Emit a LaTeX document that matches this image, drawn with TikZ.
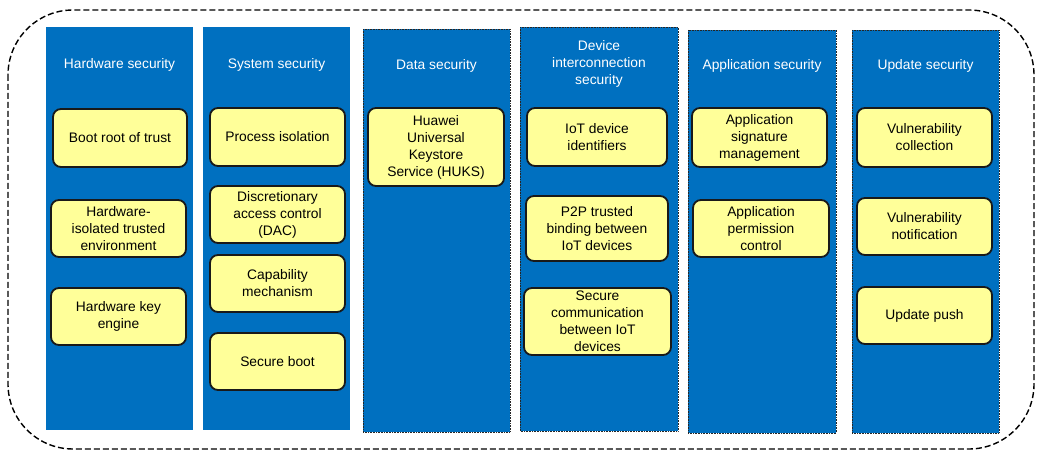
\documentclass[tikz,border=0pt]{standalone}
\usepackage{fontspec}
\setmainfont{Liberation Sans}
\definecolor{colblue}{RGB}{0,112,192}
\definecolor{itemyellow}{RGB}{255,255,153}

\begin{document}
\begin{tikzpicture}[x=1pt, y=-1pt,
    every node/.style={align=center, inner sep=0pt, font=\fontsize{13.8}{17}\selectfont},
    col/.style={fill=colblue},
    dcol/.style={fill=colblue, draw=black!85, densely dotted, line width=.6pt},
    title/.style={text=white},
    item/.style={draw=black!90, line width=1.8pt, fill=itemyellow, rounded corners=8pt}]
    \useasboundingbox (0,0) rectangle (1042,454);
    \draw[line width=1.4pt, dash pattern=on 6pt off 3pt, rounded corners=65pt] (8,10) rectangle (1034,449);

    % columns
    \fill[col] (46,27) rectangle (193,430);
    \fill[col] (203,27) rectangle (350,430);
    \filldraw[dcol] (363,29) rectangle (510,432);
    \filldraw[dcol] (520,27) rectangle (678,431);
    \filldraw[dcol] (688,30) rectangle (836,433);
    \filldraw[dcol] (852,30) rectangle (999,433);

    % titles
    \draw (119.5,65) node[title] (thw) {Hardware security};
    \draw (276.5,65) node[title] (tsys) {System security};
    \draw (436.5,66) node[title] (tdata) {Data security};
    \draw (599,64) node[title] (tdev) {Device\\interconnection\\security};
    \draw (762,66) node[title] (tapp) {Application security};
    \draw (925.5,66) node[title] (tupd) {Update security};

    % hardware
    \draw (120,138) node[item, minimum width=134, minimum height=58] (hw1) {Boot root of trust};
    \draw (118.5,228.5) node[item, minimum width=135, minimum height=57] (hw2) {Hardware-\\isolated trusted\\environment};
    \draw (118.5,316.5) node[item, minimum width=135, minimum height=57] (hw3) {Hardware key\\engine};

    % system
    \draw (277.5,137) node[item, minimum width=135, minimum height=58] (sys1) {Process isolation};
    \draw (277.5,214.5) node[item, minimum width=135, minimum height=57] (sys2) {Discretionary\\access control\\(DAC)};
    \draw (277.5,283.5) node[item, minimum width=135, minimum height=57] (sys3) {Capability\\mechanism};
    \draw (277.5,361.5) node[item, minimum width=135, minimum height=57] (sys4) {Secure boot};

    % data
    \draw (436,147) node[item, minimum width=136, minimum height=78] (data1) {Huawei\\Universal\\Keystore\\Service (HUKS)};

    % device interconnection
    \draw (597,137) node[item, minimum width=140, minimum height=58] (dev1) {IoT device\\identifiers};
    \draw (597,228.5) node[item, minimum width=142, minimum height=65] (dev2) {P2P trusted\\binding between\\IoT devices};
    \draw (597.5,321.5) node[item, minimum width=147, minimum height=67] (dev3) {Secure\\communication\\between IoT\\devices};

    % application
    \draw (759.5,137.5) node[item, minimum width=135, minimum height=59] (app1) {Application\\signature\\management};
    \draw (761,228.5) node[item, minimum width=136, minimum height=57] (app2) {Application\\permission\\control};

    % update
    \draw (924.5,137.5) node[item, minimum width=135, minimum height=59] (upd1) {Vulnerability\\collection};
    \draw (924.5,226.5) node[item, minimum width=135, minimum height=57] (upd2) {Vulnerability\\notification};
    \draw (924.5,315.5) node[item, minimum width=135, minimum height=57] (upd3) {Update push};
\end{tikzpicture}
\end{document}
